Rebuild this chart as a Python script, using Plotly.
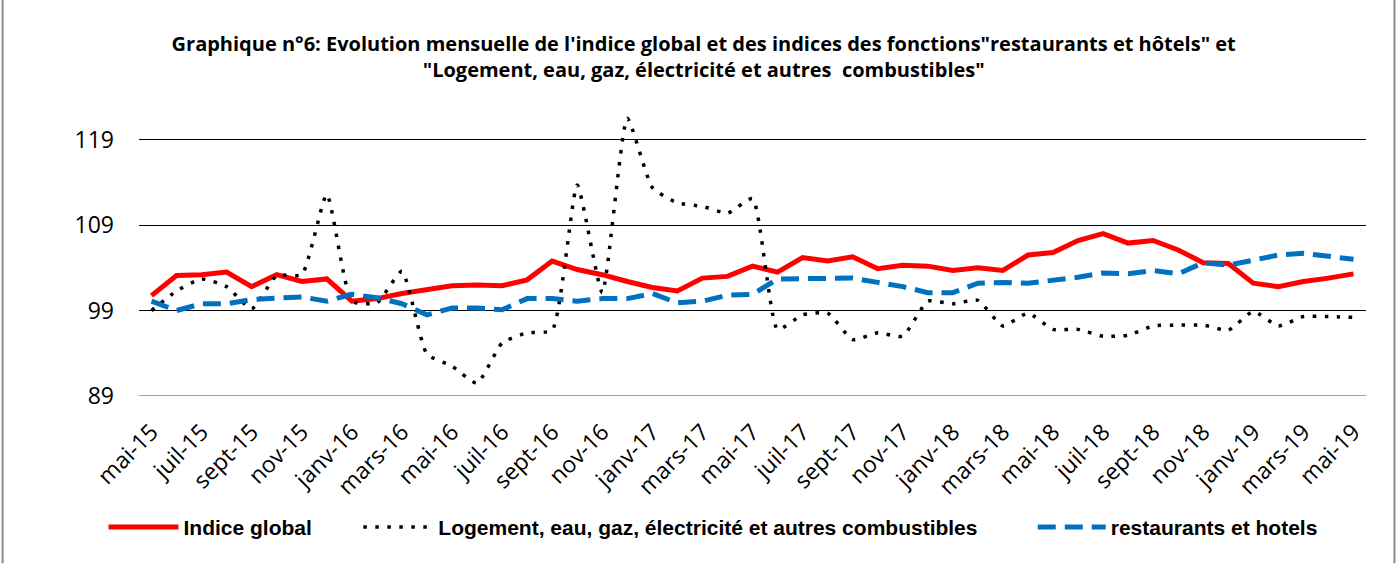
import plotly.graph_objects as go

months = ["mai-15","juin-15","juil-15","août-15","sept-15","oct-15","nov-15","déc-15",
          "janv-16","févr-16","mars-16","avr-16","mai-16","juin-16","juil-16","août-16",
          "sept-16","oct-16","nov-16","déc-16","janv-17","févr-17","mars-17","avr-17",
          "mai-17","juin-17","juil-17","août-17","sept-17","oct-17","nov-17","déc-17",
          "janv-18","févr-18","mars-18","avr-18","mai-18","juin-18","juil-18","août-18",
          "sept-18","oct-18","nov-18","déc-18","janv-19","févr-19","mars-19","avr-19","mai-19"]

indice_global = [100.75,103.1,103.2,103.5,101.8,103.2,102.4,102.7,
                 100.1,100.4,101.0,101.4,101.9,102.0,101.9,102.6,
                 104.8,103.8,103.2,102.4,101.7,101.3,102.8,103.0,
                 104.2,103.5,105.2,104.8,105.3,103.9,104.3,104.2,
                 103.7,104.0,103.7,105.5,105.8,107.2,108.0,106.9,
                 107.2,106.1,104.6,104.5,102.2,101.8,102.4,102.8,103.3]

logement = [99.0,101.3,102.7,101.8,99.2,103.1,103.2,112.6,
            100.1,99.9,103.6,93.9,92.5,90.5,95.2,96.4,
            96.7,113.7,101.1,121.5,113.4,111.6,111.2,110.4,
            112.1,96.8,98.5,98.7,95.6,96.4,96.0,100.1,
            99.8,100.2,97.2,98.7,96.8,96.8,96.0,96.1,
            97.2,97.3,97.3,96.7,98.9,97.2,98.3,98.3,98.2]

restaurants = [100.1,99.0,99.8,99.8,100.3,100.4,100.6,100.1,
               100.9,100.5,99.8,98.5,99.3,99.3,99.1,100.4,
               100.4,100.1,100.4,100.4,101.0,99.9,100.1,100.8,
               100.9,102.7,102.7,102.8,102.8,102.3,101.8,101.1,
               101.1,102.2,102.3,102.2,102.5,102.9,103.4,103.3,
               103.7,103.3,104.6,104.3,104.9,105.5,105.7,105.4,105.0]

y_ticks = [89, 99, 109, 119]

title_text = ("Graphique n°6: Evolution mensuelle de l'indice global et des indices des fonctions\"restaurants et hôtels\" et"
              "<br>\"Logement, eau, gaz, électricité et autres  combustibles\"")

x = list(range(len(months)))

W, H = 1399, 564
L, R, T, B = 138.5, 32.5, 97.25, 167.5
pw = W - L - R
ph = H - T - B

def px_x(p):
    return (p - L) / pw

def px_y(p):
    return (H - B - p) / ph

legend_font = dict(family="Liberation Sans", size=21, color="#000000", weight="bold")

fig = go.Figure()
fig.add_trace(go.Scatter(x=x, y=indice_global, mode="lines", name="Indice global",
                         line=dict(color="#FF0000", width=5), legend="legend"))
fig.add_trace(go.Scatter(x=x, y=logement, mode="lines",
                         name="Logement, eau, gaz, électricité et autres combustibles",
                         line=dict(color="#000000", width=3.5, dash="3.5px,8.5px",
                                   shape="spline", smoothing=0.5), legend="legend2"))
fig.add_trace(go.Scatter(x=x, y=restaurants, mode="lines", name="restaurants et hotels",
                         line=dict(color="#0070C0", width=5, dash="18px,9px"), legend="legend3"))

common_leg = dict(orientation="h", yanchor="middle", xanchor="left", font=legend_font,
                  bgcolor="rgba(0,0,0,0)", borderwidth=0)

fig.update_layout(
    width=W, height=H,
    margin=dict(l=L, r=R, t=T, b=B),
    paper_bgcolor="white", plot_bgcolor="white",
    title=dict(text=title_text, x=0.503, xanchor="center", xref="container",
               y=1 - 51 / H, yanchor="top",
               font=dict(family="Open Sans", size=20, color="#000000", weight="bold")),
    showlegend=True,
    legend=dict(x=px_x(103), y=px_y(528), itemwidth=70, **common_leg),
    legend2=dict(x=px_x(358), y=px_y(528), itemwidth=70, **common_leg),
    legend3=dict(x=px_x(1033), y=px_y(528), itemwidth=68, **common_leg),
    xaxis=dict(range=[-0.5, 48.5], tickmode="array", tickvals=x[::2], ticktext=months[::2],
               tickangle=-45, showgrid=False, zeroline=False, showline=False, ticks="",
               automargin=False, ticklabelstandoff=17,
               tickfont=dict(family="Open Sans", size=23, color="#000000")),
    yaxis=dict(range=[89, 124], tickmode="array", tickvals=y_ticks,
               showgrid=True, gridcolor="#000000", gridwidth=1.3, zeroline=False,
               showline=False, ticks="", ticklabelstandoff=24, automargin=False,
               tickfont=dict(family="Open Sans", size=23, color="#000000")),
)

# gray baseline at the axis minimum
fig.add_shape(type="line", xref="paper", yref="y", x0=0, x1=1, y0=89, y1=89,
              line=dict(color="#A0A0A0", width=2))
# side borders of the chart frame
for bx in (2, 1395):
    fig.add_shape(type="line", xref="paper", yref="paper", x0=px_x(bx), x1=px_x(bx),
                  y0=px_y(0), y1=px_y(H), line=dict(color="#8C8C8C", width=2))

fig.write_html("out.html", config={"displayModeBar": False},
               post_script="document.body.style.margin='0px';")
